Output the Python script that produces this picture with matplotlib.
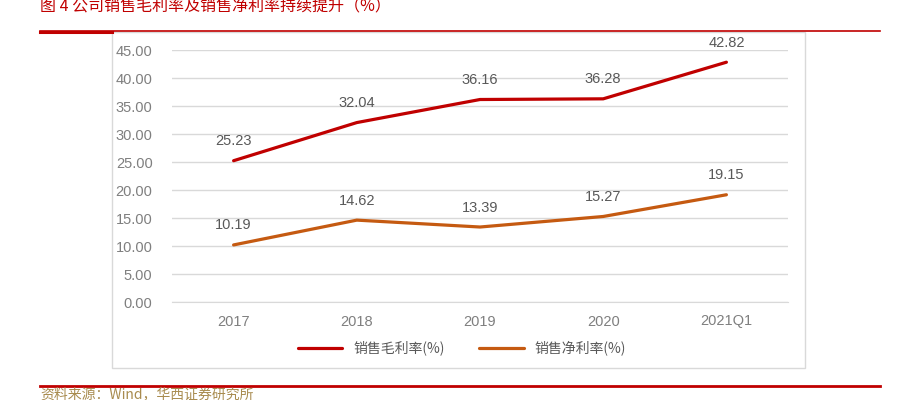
import matplotlib
matplotlib.use("Agg")
import matplotlib.pyplot as plt
from matplotlib.lines import Line2D
from matplotlib.patches import Rectangle

plt.rcParams['font.family'] = ['Noto Sans CJK SC', 'DejaVu Sans']

# %% data
categories = ["2017", "2018", "2019", "2020", "2021Q1"]
gross_margin = [25.23, 32.04, 36.16, 36.28, 42.82]
net_margin = [10.19, 14.62, 13.39, 15.27, 19.15]
series_names = ["销售毛利率(%)", "销售净利率(%)"]
title = "图 4 公司销售毛利率及销售净利率持续提升（%）"
source = "资料来源：Wind，华西证券研究所"

# %% figure
fig = plt.figure(figsize=(9.04, 4.0), dpi=100)
W, H = 904, 400

def fx(px): return px / W
def fy(py): return 1 - py / H

num_font = ["Liberation Sans", "DejaVu Sans"]

# outer frame & decorations
fig.add_artist(Rectangle((fx(112), fy(368)), fx(805) - fx(112), fy(32) - fy(368),
                         transform=fig.transFigure, fill=False, edgecolor="#D9D9D9", lw=1.0))
fig.add_artist(Line2D([fx(40), fx(880)], [fy(31), fy(31)], transform=fig.transFigure,
                      color="#C00000", lw=1.2))
fig.add_artist(Line2D([fx(40), fx(112)], [fy(31.5), fy(31.5)], transform=fig.transFigure,
                      color="#C00000", lw=2.2))
fig.add_artist(Line2D([fx(40), fx(880)], [fy(386), fy(386)], transform=fig.transFigure,
                      color="#C00000", lw=2.0))
fig.text(fx(40), fy(7), title, fontsize=11.5, color="#C00000", va="center", ha="left")
fig.text(fx(40), fy(394), source, fontsize=10, color="#A88B4E", va="center", ha="left")

ax = fig.add_axes([fx(172), fy(302), fx(788) - fx(172), fy(50) - fy(302)])
x = range(len(categories))
colors = ["#C00000", "#C55A11"]
for vals, c, name in zip([gross_margin, net_margin], colors, series_names):
    ax.plot(x, vals, color=c, lw=2.3, solid_capstyle="round", label=name)
    for xi, v in zip(x, vals):
        ax.annotate(f"{v:.2f}", (xi, v), xytext=(0, 9), textcoords="offset points",
                    ha="center", va="bottom", fontsize=10.5, color="#595959",
                    family=num_font)

ax.set_xlim(-0.5, len(categories) - 0.5)
ax.set_ylim(0, 45)
ax.set_yticks(range(0, 50, 5))
ax.set_yticklabels([f"{v:.2f}" for v in range(0, 50, 5)], family=num_font)
ax.set_xticks(list(x))
ax.set_xticklabels(categories, family=num_font)
ax.tick_params(length=0, labelsize=10.5, colors="#7F7F7F", pad=14)
ax.tick_params(axis="x", pad=9)
ax.grid(axis="y", color="#D9D9D9", lw=1)
ax.set_axisbelow(True)
for s in ax.spines.values():
    s.set_visible(False)
ax.spines["bottom"].set_visible(True)
ax.spines["bottom"].set_color("#D9D9D9")

leg = fig.legend(loc="center", bbox_to_anchor=(fx(462), fy(348)), ncol=2, frameon=False,
                 fontsize=10, handlelength=3.2, columnspacing=2.5)
for t in leg.get_texts():
    t.set_color("#595959")

fig.savefig("out.png", dpi=100)
